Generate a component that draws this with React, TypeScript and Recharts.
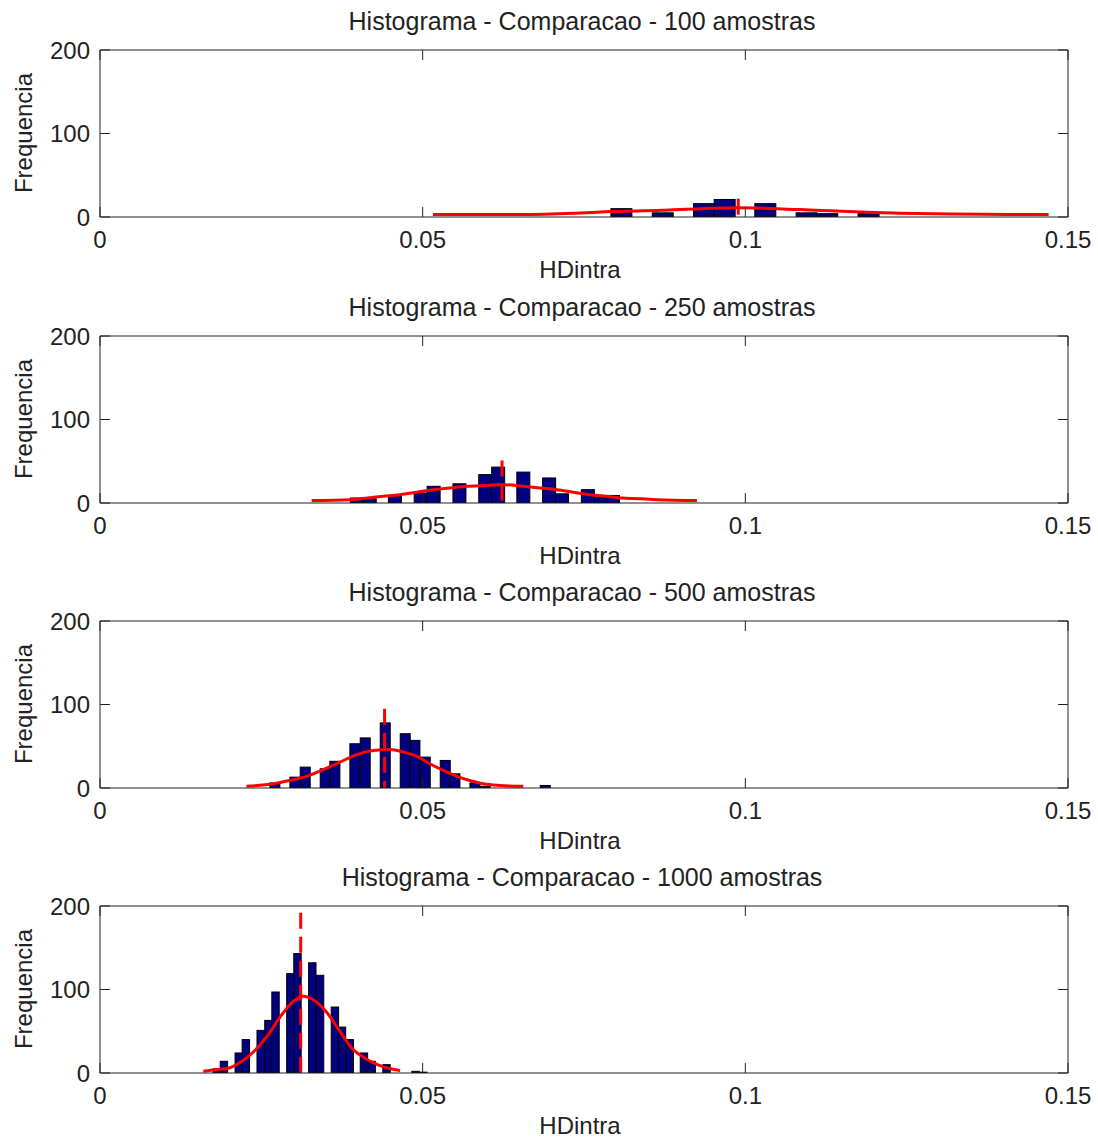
import React from 'react';
import { ComposedChart, Bar, Line, XAxis, YAxis } from 'recharts';

const xTicks = [0, 0.05, 0.1, 0.15];
const yTicks = [0, 100, 200];
const titles = [
  'Histograma - Comparacao - 100 amostras',
  'Histograma - Comparacao - 250 amostras',
  'Histograma - Comparacao - 500 amostras',
  'Histograma - Comparacao - 1000 amostras',
];

// 100 amostras
const centers100 = [0.0808, 0.0872, 0.0936, 0.0968, 0.1031, 0.1095, 0.1127, 0.1191];
const counts100 = [10, 5, 16, 21, 16, 5, 4, 4];
const fitX100 = [0.0516, 0.065, 0.0735, 0.079, 0.087, 0.093, 0.099, 0.105, 0.111, 0.118, 0.124, 0.132, 0.147];
const fitY100 = [3, 3, 4.5, 6.5, 8, 10, 11, 10, 8, 6, 4.5, 3.5, 3];
const mean100 = [0.0989, 22];

// 250 amostras
const centers250 = [0.0398, 0.0418, 0.0457, 0.0497, 0.0517, 0.0557, 0.0597, 0.0617, 0.0656, 0.0696, 0.0716, 0.0756, 0.0776, 0.0795];
const counts250 = [6, 5, 9, 12, 20, 23, 34, 43, 37, 30, 11, 16, 7, 9];
const fitX250 = [0.0328, 0.0387, 0.0439, 0.0465, 0.0491, 0.0517, 0.0542, 0.0568, 0.0599, 0.0623, 0.0656, 0.0682, 0.0708, 0.0733, 0.0759, 0.0785, 0.0811, 0.0837, 0.0863, 0.0925];
const fitY250 = [3, 4, 8, 10, 13, 16, 18, 20, 21, 22, 20, 18, 16, 13, 10, 8, 6, 5, 4, 3];
const mean250 = [0.0623, 51];

// 500 amostras
const centers500 = [0.0271, 0.0302, 0.0318, 0.0349, 0.0364, 0.0395, 0.0411, 0.0442, 0.0473, 0.0488, 0.0504, 0.0535, 0.055, 0.0581, 0.0597, 0.069];
const counts500 = [6, 13, 25, 23, 32, 53, 60, 78, 65, 57, 37, 33, 17, 6, 2, 3];
const fitX500 = [0.0227, 0.0269, 0.0294, 0.032, 0.0346, 0.0372, 0.0398, 0.0424, 0.0449, 0.047, 0.0491, 0.0511, 0.0532, 0.0553, 0.0573, 0.0594, 0.062, 0.0656];
const fitY500 = [2, 5, 9, 14, 22, 31, 40, 45, 46, 43, 38, 29, 21, 14, 9, 5, 3, 2];
const mean500 = [0.0441, 95];

// 1000 amostras
const centers1000 = [0.0181, 0.0192, 0.0215, 0.0226, 0.0249, 0.0261, 0.0272, 0.0295, 0.0306, 0.0329, 0.0341, 0.0364, 0.0375, 0.0387, 0.0409, 0.0421, 0.0444, 0.0489, 0.0501];
const counts1000 = [5, 14, 24, 40, 51, 63, 97, 119, 143, 132, 117, 79, 55, 40, 24, 14, 10, 2, 1];
const fitX1000 = [0.016, 0.018, 0.02, 0.022, 0.024, 0.026, 0.028, 0.03, 0.0315, 0.033, 0.035, 0.037, 0.039, 0.041, 0.043, 0.045, 0.0465];
const fitY1000 = [2, 4, 6, 14, 27, 45, 68, 86, 92, 88, 74, 52, 30, 18, 10, 5, 3];
const mean1000 = [0.0311, 192];

const toRows = (xs: number[], ys: number[]) => xs.map((x, i) => ({ x, y: ys[i] }));
const meanRows = (m: number[]) => [{ x: m[0], y: m[1] }, { x: m[0], y: 0 }];

const panels = [
  { top: 0, title: titles[0], bins: toRows(centers100, counts100), fit: toRows(fitX100, fitY100), mean: meanRows(mean100), barSize: 21 },
  { top: 286, title: titles[1], bins: toRows(centers250, counts250), fit: toRows(fitX250, fitY250), mean: meanRows(mean250), barSize: 13 },
  { top: 571, title: titles[2], bins: toRows(centers500, counts500), fit: toRows(fitX500, fitY500), mean: meanRows(mean500), barSize: 10 },
  { top: 856, title: titles[3], bins: toRows(centers1000, counts1000), fit: toRows(fitX1000, fitY1000), mean: meanRows(mean1000), barSize: 7.4 },
];

const font = '"Liberation Sans", Arial, sans-serif';
const tickStyle = { fill: '#222', fontSize: 24, fontFamily: font };
const textStyle: React.CSSProperties = {
  position: 'absolute',
  fontFamily: font,
  fontSize: 24,
  lineHeight: '24px',
  color: '#222',
  whiteSpace: 'nowrap',
};

// bar drawn centred on its bin with the bin's pixel width
const binShape = (w: number) => (props: any) => {
  const { x, y, width, height } = props;
  if (!height) return <g />;
  const cx = x + width / 2;
  return <rect x={cx - w / 2} y={y} width={w} height={height} fill="#000080" stroke="#000" strokeWidth={1} />;
};

const Panel = ({ top, title, bins, fit, mean, barSize }: any) => (
  <div style={{ position: 'absolute', left: 0, top, width: 1098, height: 286 }}>
    <ComposedChart width={1098} height={286} data={bins} margin={{ top: 49, right: 29, bottom: 39, left: 40 }}>
      <XAxis dataKey="x" type="number" domain={[0, 0.15]} ticks={xTicks} interval={0} allowDataOverflow
        tickSize={-10} tickMargin={24} height={30} stroke="#222" tick={tickStyle} />
      <XAxis xAxisId="top" dataKey="x" orientation="top" type="number" domain={[0, 0.15]} ticks={xTicks} interval={0}
        allowDataOverflow tickSize={-10} height={1} stroke="#222" tickFormatter={() => ''} />
      <YAxis type="number" domain={[0, 200]} ticks={yTicks} interval={0} allowDataOverflow
        tickSize={-10} tickMargin={20} width={60} stroke="#222" tick={tickStyle} />
      <YAxis yAxisId="right" orientation="right" type="number" domain={[0, 200]} ticks={yTicks} interval={0}
        allowDataOverflow tickSize={-10} width={1} stroke="#222" tickFormatter={() => ''} />
      <Bar dataKey="y" fill="#000080" stroke="#000" shape={binShape(barSize)} isAnimationActive={false} />
      <Line data={fit} dataKey="y" type="monotone" stroke="#ff0000" strokeWidth={3} dot={false} isAnimationActive={false} />
      <Line data={mean} dataKey="y" xAxisId="top" yAxisId="right" type="linear" stroke="#ff0000" strokeWidth={3}
        strokeDasharray="16 8" dot={false} isAnimationActive={false} />
    </ComposedChart>
    <div style={{ ...textStyle, fontSize: 25, left: 582, top: 9, transform: 'translateX(-50%)' }}>{title}</div>
    <div style={{ ...textStyle, left: 580, top: 258, transform: 'translateX(-50%)' }}>HDintra</div>
    <div style={{ ...textStyle, left: 24, top: 133, transform: 'translate(-50%, -50%) rotate(-90deg)' }}>Frequencia</div>
  </div>
);

export default function App() {
  return (
    <div style={{ position: 'absolute', left: 0, top: 0, width: 1098, height: 1139, background: '#fff' }}>
      {panels.map((p) => (
        <Panel key={p.title} {...p} />
      ))}
    </div>
  );
}
